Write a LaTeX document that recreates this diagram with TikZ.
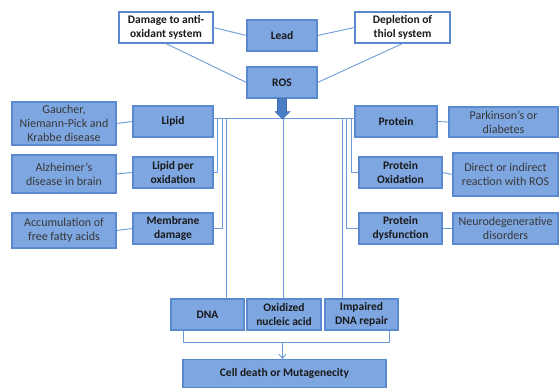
\documentclass[tikz,border=0pt]{standalone}
\usepackage{fontspec}
\setmainfont{Carlito}
\usetikzlibrary{arrows.meta,calc}
\definecolor{boxfill}{HTML}{7EA6E0}
\definecolor{boxdraw}{HTML}{5A89CF}
\definecolor{linec}{HTML}{6D9AD8}
\definecolor{arrfill}{HTML}{4A7EC4}
\definecolor{arrdraw}{HTML}{3D6DB0}
\definecolor{txtc}{HTML}{383838}
\tikzset{
  box/.style={draw=boxdraw, fill=boxfill, line width=1.1pt, inner sep=1pt, align=center, font=\fontsize{11.5}{14}\selectfont\bfseries, text=black!90},
  dis/.style={box, font=\fontsize{12}{14}\selectfont, text=txtc},
  wbox/.style={box, fill=white},
  conn/.style={draw=linec, line width=0.9pt},
}
\begin{document}
\begin{tikzpicture}[x=1pt,y=-1pt]
\useasboundingbox (0,0) rectangle (559,388);
% top
\node[wbox, minimum width=94pt, minimum height=31pt] (dmg) at (166,27.5) {Damage to anti-\\oxidant system};
\node[box, minimum width=70pt, minimum height=31pt] (lead) at (282,35.5) {Lead};
\node[box, minimum width=70pt, minimum height=31pt] (ros) at (282,82.5) {ROS};
\node[wbox, minimum width=95pt, minimum height=31pt] (depl) at (402.5,27.5) {Depletion of\\thiol system};
% left
\node[dis, minimum width=104pt, minimum height=43pt] (gau) at (64,123.5) {Gaucher,\\Niemann-Pick and\\Krabbe disease};
\node[box, minimum width=80pt, minimum height=31pt] (lipid) at (173,121.5) {Lipid};
\node[dis, minimum width=104pt, minimum height=38pt] (alz) at (64,174) {Alzheimer’s\\disease in brain};
\node[box, minimum width=80pt, minimum height=31pt] (lpo) at (173,172.5) {Lipid per\\oxidation};
\node[dis, minimum width=104pt, minimum height=35pt] (acc) at (64,230.5) {Accumulation of\\free fatty acids};
\node[box, minimum width=80pt, minimum height=31pt] (mem) at (173,228.5) {Membrane\\damage};
% right
\node[box, minimum width=82pt, minimum height=31pt] (prot) at (396,121.5) {Protein};
\node[dis, minimum width=109pt, minimum height=30pt] (park) at (503.5,122) {Parkinson’s or\\diabetes};
\node[box, minimum width=83pt, minimum height=31pt] (pox) at (400.5,172.5) {Protein\\Oxidation};
\node[dis, minimum width=105pt, minimum height=43pt] (dir) at (505.5,174.5) {Direct or indirect\\reaction with ROS};
\node[box, minimum width=83pt, minimum height=31pt] (pdys) at (400.5,228.5) {Protein\\dysfunction};
\node[dis, minimum width=105pt, minimum height=31pt] (neuro) at (505.5,228.5) {Neurodegenerative\\disorders};
% bottom
\node[box, minimum width=73pt, minimum height=31pt] (dna) at (207.5,314.5) {DNA};
\node[box, minimum width=74pt, minimum height=31pt] (oxn) at (284,314.5) {Oxidized\\nucleic acid};
\node[box, minimum width=73pt, minimum height=31pt] (imp) at (361.5,314.5) {Impaired\\DNA repair};
\node[box, minimum width=203pt, minimum height=28pt] (cell) at (284.5,373.5) {Cell death or Mutagenecity};
% coordinates
\coordinate (hub) at (283,118.5);
\coordinate (hl) at (213,118.5);
\coordinate (hr) at (355,118.5);
\coordinate (l1) at (217.5,118.5);
\coordinate (l2) at (222,118.5);
\coordinate (l3) at (226.5,118.5);
\coordinate (r1) at (351,118.5);
\coordinate (r2) at (346.5,118.5);
\coordinate (r3) at (342,118.5);
\coordinate (bl) at (183,342);
\coordinate (br) at (389,342);
\coordinate (bm) at (282.5,342);
% top connectors
\draw[conn] (dmg.east) -- (lead.west);
\draw[conn] (dmg.south) -- (ros.west);
\draw[conn] (depl.west) -- (lead.east);
\draw[conn] (depl.south) -- (ros.east);
% hub
\draw[conn] (hl) -- (hr);
\draw[conn] (l1) |- (lpo.east);
\draw[conn] (l2) |- (mem.east);
\draw[conn] (l3) -- (l3 |- dna.north);
\draw[conn] (r1) |- (pox.west);
\draw[conn] (r2) |- (pdys.west);
\draw[conn] (r3) -- (r3 |- imp.north);
\draw[conn] (hub) -- (hub |- oxn.north);
% side connectors
\draw[conn] (gau.east) -- (lipid.west);
\draw[conn] (alz.east) -- (lpo.west);
\draw[conn] (acc.east) -- (mem.west);
\draw[conn] (prot.east) -- (park.west);
\draw[conn] (pox.east) -- (dir.west);
\draw[conn] (pdys.east) -- (neuro.west);
% bottom bracket
\draw[conn] (bl |- dna.south) -- (bl) -- (br) -- (br |- imp.south);
\draw[conn, -{Straight Barb[length=4pt,width=7pt]}] (bm) -- (bm |- cell.north);
% ROS arrow
\draw[fill=arrfill, draw=arrdraw, line width=0.6pt]
  ($(ros.south)+(-4.5,0)$) -- ($(ros.south)+(4.5,0)$) -- ($(ros.south)+(4.5,13)$) -- ($(ros.south)+(8,13)$)
  -- ($(ros.south)+(0.5,20.5)$) -- ($(ros.south)+(-7,13)$) -- ($(ros.south)+(-4.5,13)$) -- cycle;
\end{tikzpicture}
\end{document}
